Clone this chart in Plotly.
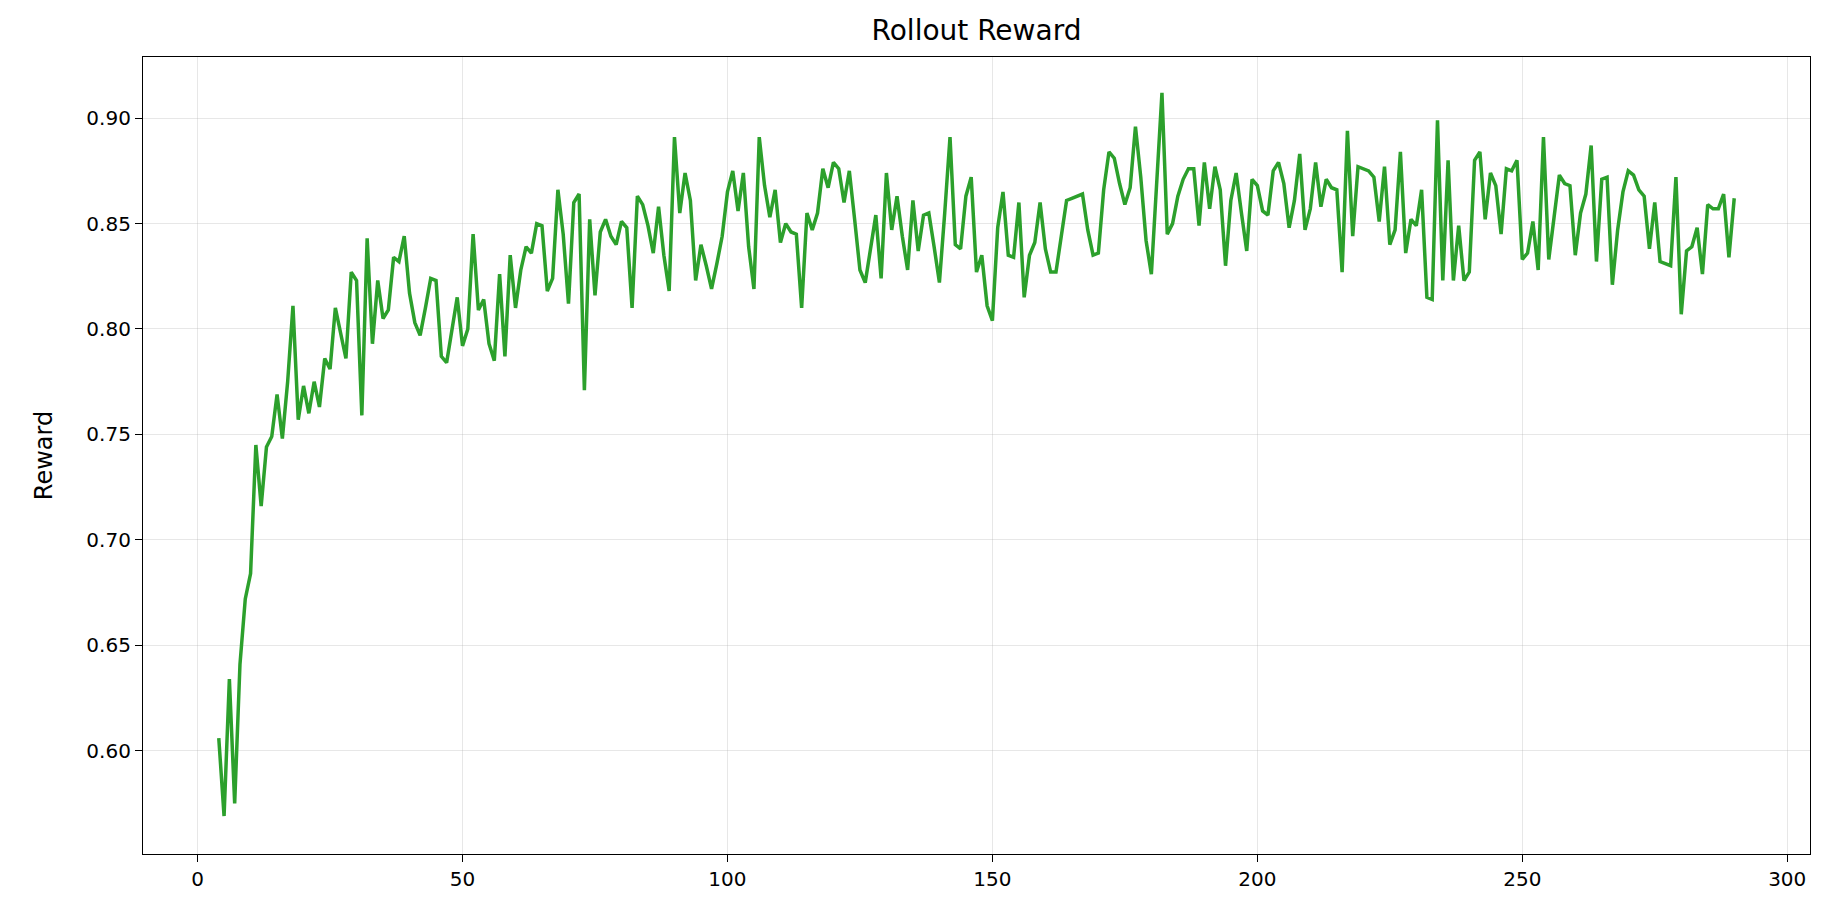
import plotly.graph_objects as go

steps = list(range(4, 291))
reward = [
    0.606, 0.569, 0.634, 0.575, 0.641, 0.672, 0.684, 0.745, 0.716, 0.744,
    0.749, 0.769, 0.748, 0.775, 0.811, 0.757, 0.773, 0.760, 0.775, 0.763,
    0.786, 0.781, 0.810, 0.797, 0.786, 0.827, 0.823, 0.759, 0.843, 0.793,
    0.823, 0.805, 0.809, 0.834, 0.832, 0.844, 0.817, 0.803, 0.797, 0.810,
    0.824, 0.823, 0.787, 0.784, 0.800, 0.815, 0.792, 0.800, 0.845, 0.809,
    0.814, 0.793, 0.785, 0.826, 0.787, 0.835, 0.810, 0.828, 0.839, 0.836,
    0.850, 0.849, 0.818, 0.824, 0.866, 0.845, 0.812, 0.860, 0.864, 0.771,
    0.852, 0.816, 0.846, 0.852, 0.844, 0.840, 0.851, 0.848, 0.810, 0.863,
    0.859, 0.849, 0.836, 0.858, 0.835, 0.818, 0.891, 0.855, 0.874, 0.861,
    0.823, 0.840, 0.830, 0.819, 0.831, 0.844, 0.865, 0.875, 0.856, 0.874,
    0.839, 0.819, 0.891, 0.868, 0.853, 0.866, 0.841, 0.850, 0.846, 0.845,
    0.810, 0.855, 0.847, 0.855, 0.876, 0.867, 0.879, 0.876, 0.860, 0.875,
    0.852, 0.828, 0.822, 0.838, 0.854, 0.824, 0.874, 0.847, 0.863, 0.844,
    0.828, 0.861, 0.837, 0.854, 0.855, 0.839, 0.822, 0.855, 0.891, 0.840,
    0.838, 0.863, 0.872, 0.827, 0.835, 0.811, 0.804, 0.848, 0.865, 0.835,
    0.834, 0.860, 0.815, 0.835, 0.841, 0.860, 0.838, 0.827, 0.827, 0.844,
    0.861, 0.862, 0.863, 0.864, 0.847, 0.835, 0.836, 0.866, 0.884, 0.881,
    0.869, 0.859, 0.867, 0.896, 0.872, 0.842, 0.826, 0.870, 0.912, 0.845,
    0.850, 0.863, 0.871, 0.876, 0.876, 0.849, 0.879, 0.857, 0.877, 0.866,
    0.830, 0.861, 0.874, 0.855, 0.837, 0.871, 0.868, 0.856, 0.854, 0.875,
    0.879, 0.869, 0.848, 0.861, 0.883, 0.847, 0.857, 0.879, 0.858, 0.871,
    0.867, 0.866, 0.827, 0.894, 0.844, 0.877, 0.876, 0.875, 0.872, 0.851,
    0.877, 0.840, 0.847, 0.884, 0.836, 0.852, 0.849, 0.866, 0.815, 0.814,
    0.899, 0.823, 0.880, 0.823, 0.849, 0.823, 0.827, 0.880, 0.884, 0.852,
    0.874, 0.868, 0.845, 0.876, 0.875, 0.880, 0.833, 0.836, 0.851, 0.828,
    0.891, 0.833, 0.853, 0.873, 0.869, 0.868, 0.835, 0.855, 0.864, 0.887,
    0.832, 0.871, 0.872, 0.821, 0.847, 0.865, 0.875, 0.873, 0.866, 0.863,
    0.838, 0.860, 0.832, 0.831, 0.830, 0.872, 0.807, 0.837, 0.839, 0.848,
    0.826, 0.859, 0.857, 0.857, 0.864, 0.834, 0.862,
]

x_ticks = [0, 50, 100, 150, 200, 250, 300]
y_ticks = [0.60, 0.65, 0.70, 0.75, 0.80, 0.85, 0.90]
y_tick_text = [f"{v:.2f}" for v in y_ticks]

fig = go.Figure()
fig.add_trace(go.Scatter(
    x=steps, y=reward, mode="lines",
    line=dict(color="#2ca02c", width=3.5),
    showlegend=False,
))

axis_common = dict(
    showline=True, linecolor="black", linewidth=1.2, mirror=True,
    ticks="outside", ticklen=7, tickwidth=1.2, tickcolor="black",
    showgrid=True, gridcolor="rgba(176,176,176,0.3)", gridwidth=1,
    zeroline=False,
    tickfont=dict(family="DejaVu Sans", size=20, color="black"),
)

fig.update_layout(
    width=1819, height=895,
    paper_bgcolor="white", plot_bgcolor="white",
    margin=dict(l=135, r=17, t=49, b=49),
    title=dict(text="Rollout Reward", xref="paper", x=0.5, xanchor="center",
               y=0.975, yanchor="middle",
               font=dict(family="DejaVu Sans", size=28, color="black")),
    font=dict(family="DejaVu Sans", color="black"),
)
fig.update_xaxes(range=[-10.3, 304.3], tickvals=x_ticks, **axis_common)
fig.update_yaxes(range=[0.551, 0.929], tickvals=y_ticks, ticktext=y_tick_text,
                 title=dict(text="Reward", font=dict(family="DejaVu Sans", size=24, color="black"),
                            standoff=26),
                 **axis_common)

fig.write_html("out.html")
